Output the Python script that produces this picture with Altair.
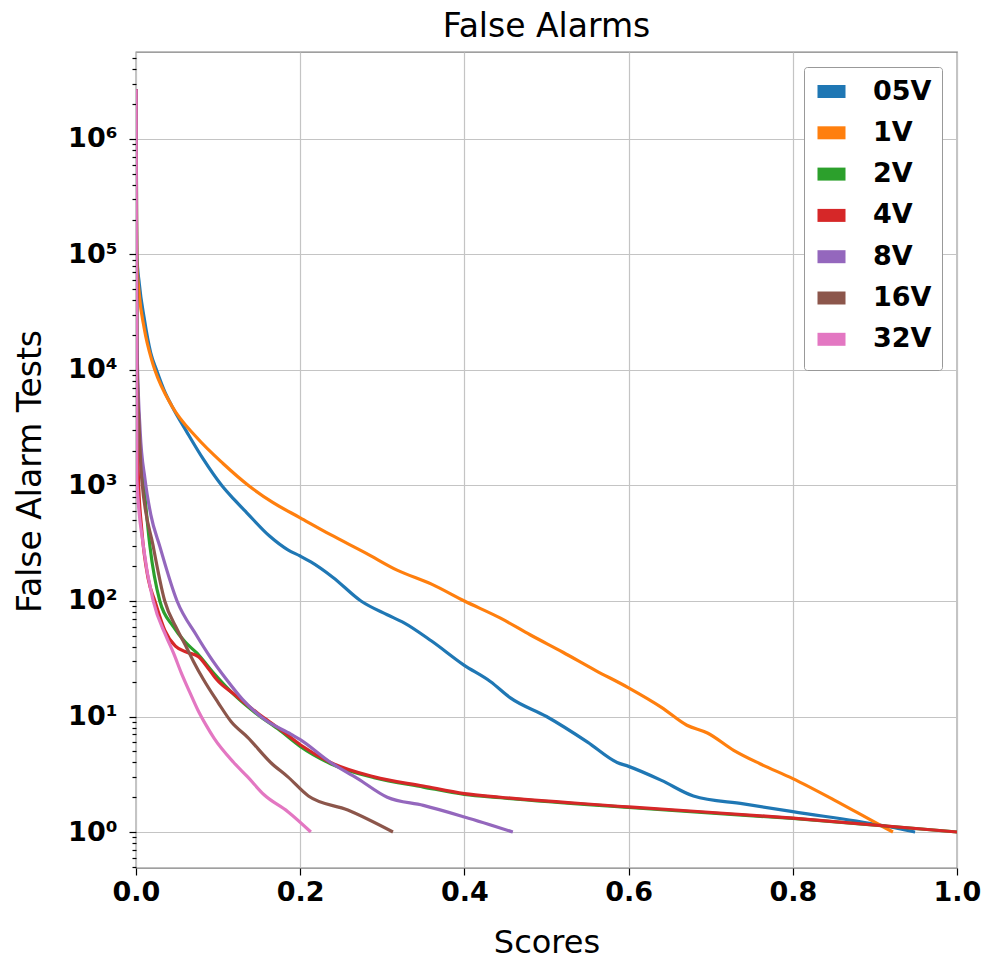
import altair as alt
import pandas as pd

# Series names and their colours
series = ["05V", "1V", "2V", "4V", "8V", "16V", "32V"]
colors = ["#1f77b4", "#ff7f0e", "#2ca02c", "#d62728", "#9467bd", "#8c564b", "#e377c2"]

# False-alarm counts versus score threshold, one pair of lists per series
score_05v = [0.0, 0.001, 0.004, 0.01, 0.018, 0.025, 0.035, 0.0435, 0.062, 0.082, 0.1045,
             0.12, 0.135, 0.163, 0.185, 0.2, 0.213, 0.24, 0.274, 0.306, 0.326, 0.36,
             0.399, 0.432, 0.456, 0.5, 0.55, 0.586, 0.6, 0.64, 0.679, 0.74, 0.8, 0.906, 0.949]
count_05v = [2.7e6, 1.0e5, 5.6e4, 2.8e4, 1.4e4, 1.0e4, 6500, 4900, 2900, 1690, 1000,
             750, 580, 363, 277, 245, 218, 160, 100, 76, 65, 45,
             28, 20, 14.5, 10, 6, 4.0, 3.7, 2.8, 2.05, 1.75, 1.5, 1.15, 1.0]

score_1v = [0.0, 0.001, 0.004, 0.01, 0.019, 0.023, 0.0435, 0.074, 0.106, 0.137, 0.167,
            0.2, 0.237, 0.28, 0.318, 0.36, 0.4, 0.444, 0.48, 0.52, 0.56, 0.6, 0.64,
            0.671, 0.696, 0.728, 0.76, 0.8, 0.85, 0.906, 0.922]
count_1v = [2.7e6, 9.0e4, 4.5e4, 2.3e4, 1.23e4, 1.0e4, 4900, 2600, 1550, 1000, 710,
            525, 375, 260, 185, 140, 100, 71, 51, 36, 25, 17.7, 12,
            8.4, 7.2, 5.1, 3.9, 2.9, 1.9, 1.15, 1.0]

score_2v = [0.0, 0.001, 0.004, 0.009, 0.017, 0.029, 0.0455, 0.06, 0.074, 0.094, 0.12,
            0.148, 0.175, 0.2, 0.237, 0.29, 0.35, 0.4, 0.444, 0.6, 0.8, 1.0]
count_2v = [2.7e6, 1.5e4, 3000, 1130, 297, 100, 60, 44, 35.5, 24, 15.3,
            10.4, 7.6, 5.5, 3.9, 2.95, 2.45, 2.12, 1.98, 1.63, 1.31, 1.0]

score_4v = [0.0, 0.001, 0.003, 0.007, 0.015, 0.023, 0.035, 0.048, 0.062, 0.076, 0.09,
            0.098, 0.12, 0.148, 0.175, 0.2, 0.237, 0.29, 0.35, 0.4, 0.444, 0.6, 0.8, 1.0]
count_4v = [2.7e6, 8000, 1130, 415, 154, 100, 56, 40.6, 36, 33, 25,
            21, 15.5, 10.7, 7.8, 5.7, 4.0, 3.0, 2.5, 2.15, 2.0, 1.65, 1.32, 1.0]

score_8v = [0.0, 0.001, 0.005, 0.011, 0.018, 0.029, 0.05, 0.074, 0.09, 0.11, 0.13, 0.156,
            0.189, 0.2, 0.237, 0.27, 0.306, 0.35, 0.4, 0.459]
count_8v = [2.7e6, 2.0e4, 3000, 1130, 560, 297, 100, 50, 33, 21, 14, 9.5,
            7.0, 6.3, 4.0, 2.9, 2.0, 1.7, 1.35, 1.0]

score_16v = [0.0, 0.001, 0.004, 0.007, 0.021, 0.035, 0.05, 0.062, 0.07, 0.082, 0.1,
             0.116, 0.136, 0.164, 0.185, 0.21, 0.258, 0.313]
count_16v = [2.7e6, 1.5e4, 3000, 1130, 297, 100, 57, 39, 30, 21, 13.2,
             9.0, 6.6, 4.0, 3.0, 2.05, 1.55, 1.0]

score_32v = [0.0, 0.001, 0.009, 0.021, 0.037, 0.046, 0.055, 0.065, 0.075, 0.085, 0.095,
             0.119, 0.136, 0.156, 0.185, 0.213]
count_32v = [2.7e6, 1130, 297, 100, 49, 35, 24, 16.5, 11.5, 8.5, 6.5,
             4.0, 3.0, 2.1, 1.5, 1.0]

scores = [score_05v, score_1v, score_2v, score_4v, score_8v, score_16v, score_32v]
counts = [count_05v, count_1v, count_2v, count_4v, count_8v, count_16v, count_32v]

# Axis tick positions
x_ticks = [0.0, 0.2, 0.4, 0.6, 0.8, 1.0]
y_major_ticks = [1, 10, 100, 1000, 10000, 100000, 1000000]
y_minor_ticks = [k * 10 ** n for n in range(-1, 7) for k in range(2, 10)
                 if 0.488 <= k * 10 ** n <= 5.66e6]

rows = []
for s_idx, name in enumerate(series):
    for i, (sc, ct) in enumerate(zip(scores[s_idx], counts[s_idx])):
        rows.append({"series": name, "sid": s_idx, "idx": i, "score": sc, "count": ct})
df = pd.DataFrame(rows)

FONT = "DejaVu Sans"
x_scale = alt.Scale(domain=[0, 1], nice=False, zero=False)
y_scale = alt.Scale(type="log", domain=[0.488, 5.66e6], nice=False)

x_axis = alt.Axis(values=x_ticks, format=".1f", grid=True, tickSize=7, labelPadding=4,
                  labelFlush=False,
                  labelFont=FONT, labelFontSize=27, labelFontWeight="bold", labelColor="black",
                  title="Scores", titleFont=FONT, titleFontSize=32, titleFontWeight="normal",
                  titleColor="black", titleBaseline="alphabetic", titleY=84)

sup = "['\u2070','\u00b9','\u00b2','\u00b3','\u2074','\u2075','\u2076']"
y_axis_major = alt.Axis(values=y_major_ticks, grid=True, tickSize=7, labelPadding=12,
                        labelExpr="'10' + " + sup + "[round(log(datum.value) / LN10)]",
                        labelFont=FONT, labelFontSize=27, labelFontWeight="bold", labelColor="black",
                        title="False Alarm Tests", titleFont=FONT, titleFontSize=33,
                        titleFontWeight="normal", titleColor="black", titleX=-106, titleY=419,
                        titleAngle=-90, titleAlign="center",
                        titleBaseline="middle", orient="left")
y_axis_minor = alt.Axis(values=y_minor_ticks, grid=False, labels=False, tickSize=4,
                        title=None, orient="left", domain=False)

# Legend swatch: a short outlined bar whose thick stroke closes it into a solid block
swatch = "M-1,-0.2H1V0.2H-1Z"

lines = alt.Chart(df).mark_line(strokeWidth=3.2, clip=True, interpolate="monotone").encode(
    x=alt.X("score:Q", scale=x_scale, axis=x_axis),
    y=alt.Y("count:Q", scale=y_scale, axis=y_axis_major),
    color=alt.Color("series:N", scale=alt.Scale(domain=series, range=colors),
                    legend=alt.Legend(title=None, orient="top-right", offset=15,
                                      fillColor="white", strokeColor="#999999",
                                      padding=10, cornerRadius=3,
                                      symbolType=swatch, symbolStrokeWidth=9.25,
                                      symbolSize=352, symbolOffset=3,
                                      labelOffset=27, rowPadding=0.3,
                                      labelFont=FONT, labelFontSize=27,
                                      labelFontWeight="bold", labelColor="black")),
    order="idx:Q",
)

minor = alt.Chart(df).mark_line(opacity=0).encode(
    x=alt.X("score:Q", scale=x_scale, axis=x_axis),
    y=alt.Y("count:Q", scale=y_scale, axis=y_axis_minor),
    detail="series:N",
    order="idx:Q",
)

chart = alt.layer(lines, minor).resolve_axis(y="independent").properties(
    width=821,
    height=816,
    title=alt.TitleParams("False Alarms", font=FONT, fontSize=33, fontWeight="normal",
                          color="black", anchor="middle", offset=8),
    padding={"left": 136, "top": 52, "right": 29, "bottom": 93},
    autosize=alt.AutoSizeParams(type="none"),
).configure_view(
    stroke="#808080", strokeWidth=1.3
).configure_axis(
    domain=False, gridColor="#c4c4c4", gridWidth=1.2, tickColor="black", tickWidth=1.2
)

chart.save("out.html", embed_options={"renderer": "svg", "actions": False})
